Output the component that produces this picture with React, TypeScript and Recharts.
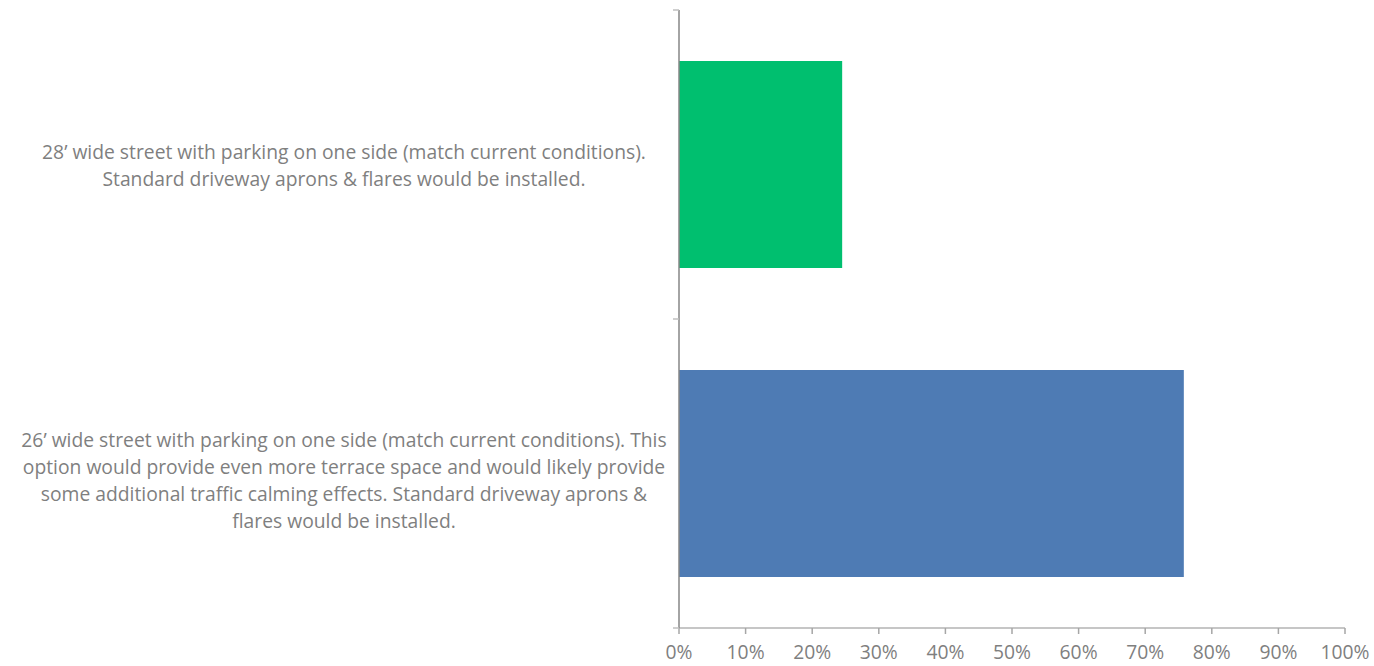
import { BarChart, Bar, XAxis, YAxis, Cell } from "recharts";

// survey options (line breaks as in the source chart)
const options = [
  "28’ wide street with parking on one side (match current conditions).\nStandard driveway aprons & flares would be installed.",
  "26’ wide street with parking on one side (match current conditions). This\noption would provide even more terrace space and would likely provide\nsome additional traffic calming effects. Standard driveway aprons &\nflares would be installed.",
];
const shares = [0.245, 0.758];
const barColors = ["#00BF6F", "#4E7BB4"];
const xTicks = [0, 0.1, 0.2, 0.3, 0.4, 0.5, 0.6, 0.7, 0.8, 0.9, 1];

const W = 1374;
const H = 666;
const MARGIN = { top: 10, right: 29, bottom: 0, left: 0 };
const Y_AXIS_W = 679;
const X_AXIS_H = 38;
const PLOT_H = H - MARGIN.top - MARGIN.bottom - X_AXIS_H;
const BAND = PLOT_H / options.length;
const FONT = "'Open Sans', sans-serif";
const FS = 19.3;

const data = options.map((name, i) => ({ name, value: shares[i] }));

const CategoryTick = (props: any) => {
  const { y, payload, index } = props;
  const lines: string[] = String(payload.value).split("\n");
  const lh = 27;
  const startY = y - ((lines.length - 1) * lh) / 2 + (lines.length > 2 ? 6 : 0);
  return (
    <g>
      <line x1={Y_AXIS_W - 6} x2={Y_AXIS_W} y1={y - BAND / 2} y2={y - BAND / 2} stroke="#bfbfbf" strokeWidth={1.5} />
      {index === options.length - 1 && (
        <line x1={Y_AXIS_W - 6} x2={Y_AXIS_W} y1={y + BAND / 2} y2={y + BAND / 2} stroke="#bfbfbf" strokeWidth={1.5} />
      )}
      <text x={344} y={startY} textAnchor="middle" dominantBaseline="central" fill="#7f7f7f" fontSize={FS} fontFamily={FONT}>
        {lines.map((l, i) => (
          <tspan key={i} x={344} y={startY + i * lh}>
            {l}
          </tspan>
        ))}
      </text>
    </g>
  );
};

export default function App() {
  return (
    <div style={{ position: "absolute", left: 0, top: 0, width: W, height: H, background: "#fff" }}>
      <BarChart width={W} height={H} data={data} layout="vertical" margin={MARGIN} barCategoryGap="16.5%">
        <XAxis
          type="number"
          domain={[0, 1]}
          ticks={xTicks}
          tickFormatter={(v: number) => `${Math.round(v * 100)}%`}
          height={X_AXIS_H}
          axisLine={{ stroke: "#b3b3b3", strokeWidth: 1.5 }}
          tickLine={{ stroke: "#a6a6a6", strokeWidth: 1.5 }}
          tickSize={6}
          tickMargin={11}
          tick={{ fill: "#7f7f7f", fontSize: FS, fontFamily: FONT }}
          interval={0}
        />
        <YAxis
          type="category"
          dataKey="name"
          width={Y_AXIS_W}
          axisLine={{ stroke: "#868686", strokeWidth: 1.5 }}
          tickLine={false}
          tick={<CategoryTick />}
          interval={0}
        />
        <Bar dataKey="value" isAnimationActive={false}>
          {data.map((d, i) => (
            <Cell key={d.name} fill={barColors[i]} />
          ))}
        </Bar>
      </BarChart>
    </div>
  );
}
